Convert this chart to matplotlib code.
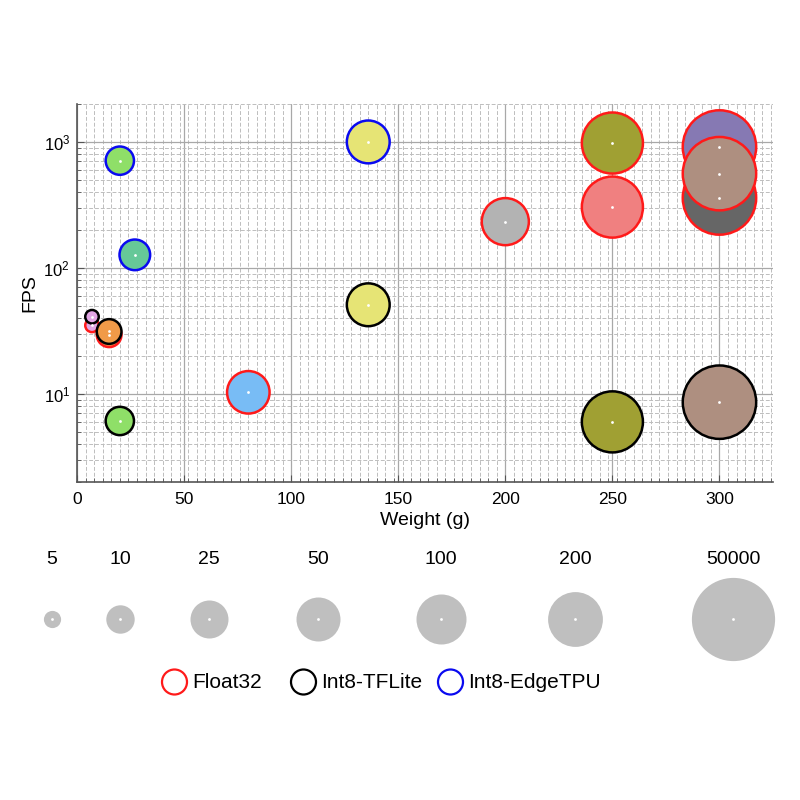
import matplotlib.pyplot as plt
import numpy as np
from matplotlib.ticker import LogLocator, MultipleLocator, NullFormatter

plt.rcParams["font.family"] = ["Liberation Sans", "DejaVu Sans"]

# bubbles, listed in the order they are drawn (later ones sit on top)
weight_g = [7, 15, 80, 200, 250, 250, 300, 300, 300,
            7, 15, 20, 136, 250, 300,
            20, 27, 136]
fps = [35, 29.5, 10.3, 233, 980, 304, 359, 912, 560,
       41, 31.3, 6.1, 51, 6.0, 8.6,
       710, 127, 1000]
precision = ["Float32"] * 9 + ["Int8-TFLite"] * 6 + ["Int8-EdgeTPU"] * 3
device = ["A", "B", "E", "G", "H", "I", "J", "K", "L",
          "A", "B", "C", "F", "H", "L",
          "C", "D", "F"]

# size-encoded value of each device
device_ids = ["A", "B", "C", "D", "E", "F", "G", "H", "I", "J", "K", "L"]
device_size = [4.5, 9, 12, 15, 53, 55, 90, 1000, 1000, 11000, 11000, 11000]

# size legend entries
size_legend = [5, 10, 25, 50, 100, 200, 50000]
precision_labels = ["Float32", "Int8-TFLite", "Int8-EdgeTPU"]

# styling
DEVICE_COLORS = {
    "A": "#e2a6e4", "B": "#f09a48", "C": "#8fdf68", "D": "#66c898",
    "E": "#78bcf5", "F": "#e6e475", "G": "#b3b3b3", "H": "#a0a033",
    "I": "#f08080", "J": "#666666", "K": "#8679b3", "L": "#ae8f80",
}
EDGE_COLORS = {"Float32": "#ff1a1a", "Int8-TFLite": "black", "Int8-EdgeTPU": "#0a0af0"}
SCALE_RADII_PX = [8.6, 14.2, 19.0, 22.0, 25.0, 27.4, 41.6]  # radius for each size_legend value
PX2PT = 0.72


def radius_px(v):
    lv = np.log10(np.asarray(v, dtype=float))
    kx = np.log10(size_legend)
    r = np.interp(lv, kx, SCALE_RADII_PX)
    slope = (SCALE_RADII_PX[1] - SCALE_RADII_PX[0]) / (kx[1] - kx[0])
    return np.where(lv < kx[0], SCALE_RADII_PX[0] + slope * (lv - kx[0]), r)


def area(r):
    return (2 * r * PX2PT) ** 2


fig = plt.figure(figsize=(8, 8), dpi=100)
ax = fig.add_axes([0.09625, 0.3975, 0.87, 0.4725])

sizes = [device_size[device_ids.index(d)] for d in device]
ax.scatter(
    weight_g, fps,
    s=area(radius_px(sizes) - 1.0),
    c=[DEVICE_COLORS[d] for d in device],
    edgecolors=[EDGE_COLORS[p] for p in precision],
    linewidths=1.8, zorder=3,
)
ax.scatter(weight_g, fps, s=4, c="white", linewidths=0, zorder=4)

ax.set_yscale("log")
ax.set_xlim(0, 325)
ax.set_ylim(2, 2000)
ax.xaxis.set_major_locator(MultipleLocator(50))
ax.xaxis.set_minor_locator(MultipleLocator(4))
ax.yaxis.set_major_locator(LogLocator(base=10))
ax.yaxis.set_minor_locator(LogLocator(base=10, subs=np.arange(2, 10)))
ax.yaxis.set_minor_formatter(NullFormatter())

ax.set_axisbelow(True)
ax.grid(which="major", color="#a8a8a8", linewidth=0.9)
ax.grid(which="minor", color="#bdbdbd", linewidth=0.7, linestyle=(0, (4, 2)))
for side in ["top", "right"]:
    ax.spines[side].set_visible(False)
for side in ["left", "bottom"]:
    ax.spines[side].set_color("#555555")
    ax.spines[side].set_linewidth(1.2)
ax.tick_params(which="both", direction="in", color="#555555")
ax.tick_params(which="major", length=5)
ax.tick_params(which="minor", length=3)
ax.tick_params(axis="x", labelsize=12.5, pad=7)
ax.tick_params(axis="y", labelsize=12, pad=5)
ax.set_xlabel("Weight (g)", fontsize=14, labelpad=4)
ax.set_ylabel("FPS", fontsize=14, labelpad=4)

# overlay in pixel coordinates for the legends below the plot
lax = fig.add_axes([0, 0, 1, 1])
lax.set_xlim(0, 800)
lax.set_ylim(800, 0)
lax.axis("off")

size_x = [52, 120, 209, 318, 441, 575, 733]
for v, x in zip(size_legend, size_x):
    lax.scatter(x, 619, s=area(radius_px(v)), c="#bfbfbf", linewidths=0)
    lax.scatter(x, 619, s=4, c="white", linewidths=0)
    lax.text(x, 560, str(v), ha="center", va="center", fontsize=14)

leg_x = [174.5, 303.5, 450.5]
for label, x in zip(precision_labels, leg_x):
    lax.scatter(x, 682, s=area(12.5), facecolors="none",
                edgecolors=EDGE_COLORS[label], linewidths=1.6)
    lax.text(x + 18, 683, label, ha="left", va="center", fontsize=15)

fig.savefig("out.png", dpi=100)
